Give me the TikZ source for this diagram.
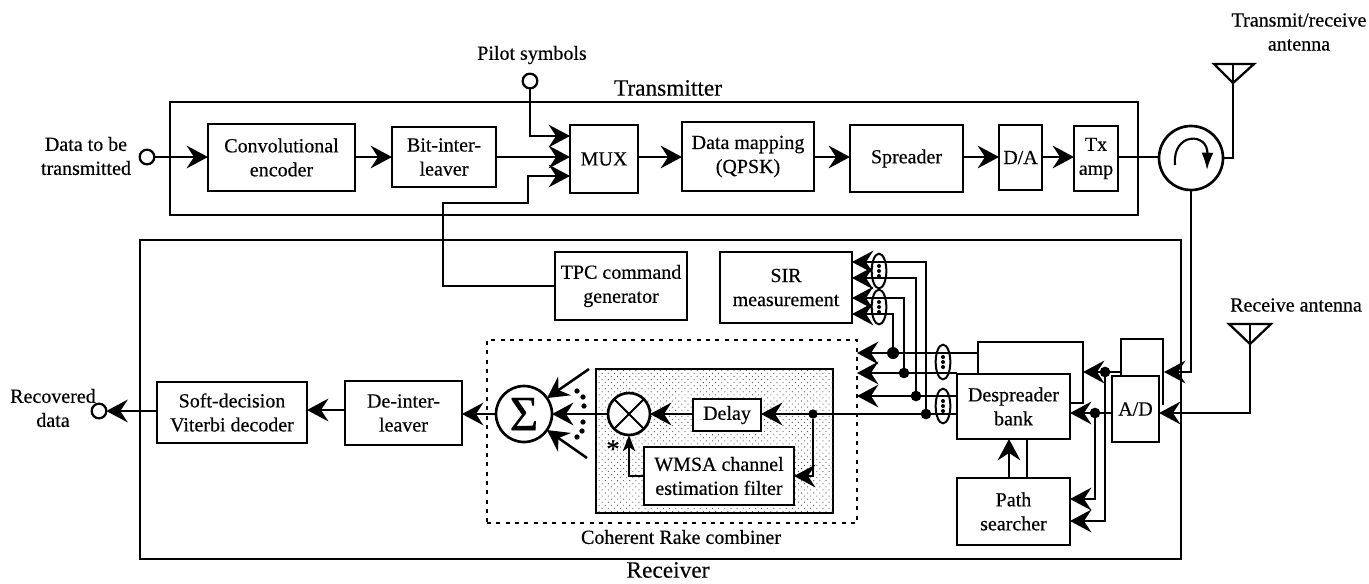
\documentclass[tikz,border=0pt]{standalone}
\usepackage{fontspec}
\setmainfont{Liberation Serif}[FakeBold=0.35]
\usetikzlibrary{arrows.meta,shapes.geometric,patterns,calc}
\pgfdeclarepatternformonly{stip}{\pgfqpoint{-1pt}{-1pt}}{\pgfqpoint{7pt}{7pt}}{\pgfqpoint{4.6pt}{4.6pt}}{%
  \pgfpathcircle{\pgfqpoint{0.8pt}{0.8pt}}{0.42pt}\pgfpathcircle{\pgfqpoint{3.1pt}{3.1pt}}{0.42pt}\pgfusepath{fill}}
\tikzset{
  blk/.style={draw,line width=2pt,fill=white,align=center,inner sep=0pt,outer sep=0pt,font=\fontsize{15}{18}\selectfont},
  frame/.style={draw,line width=1.3pt,inner sep=0pt,outer sep=0pt},
  rakebox/.style={draw,line width=1.8pt,dash pattern=on 3pt off 4pt,inner sep=0pt,outer sep=0pt},
  shade/.style={draw,line width=2pt,inner sep=0pt,outer sep=0pt,fill=white,postaction={pattern=stip,pattern color=black!75}},
  wire/.style={line width=1.9pt,line join=miter},
  thinwire/.style={line width=1.4pt},
  arr/.style={wire,-{Stealth[length=16pt,width=17pt,inset=5.5pt]}},
  lab/.style={align=center,inner sep=0pt,font=\fontsize{15}{18}\selectfont},
  titlelab/.style={align=center,inner sep=0pt,font=\fontsize{17.5}{20}\selectfont},
  port/.style={circle,draw,line width=1.7pt,minimum size=11pt,inner sep=0pt,outer sep=0pt,fill=white},
  jdot/.style={circle,fill=black,minimum size=#1,inner sep=0pt,outer sep=0pt},
  jdot/.default=8pt,
  bigcirc/.style={circle,draw,line width=2pt,fill=white,inner sep=0pt,outer sep=0pt},
  grp/.style={ellipse,draw,line width=1.5pt,minimum width=11pt,minimum height=26pt,inner sep=0pt,outer sep=0pt},
  mdot/.style={circle,fill=black,minimum size=3pt,inner sep=0pt,outer sep=0pt},
  ant/.style={line width=1.7pt,line join=miter},
}
\newcommand{\blk}[7][blk]{%
  \pgfmathsetmacro\cxx{(#3+#5)/2}\pgfmathsetmacro\cyy{(#4+#6)/2}%
  \pgfmathsetmacro\wwp{(#5-#3)*0.75}\pgfmathsetmacro\hhp{(#6-#4)*0.75}%
  \node[#1,minimum width=\wwp pt,minimum height=\hhp pt] (#2) at (\cxx,\cyy) {#7};}
\newcommand{\grpdots}[1]{%
  \node[mdot] at ($(#1)+(0,-5)$) {};\node[mdot] at (#1) {};\node[mdot] at ($(#1)+(0,5)$) {};}
\begin{document}
\begin{tikzpicture}[x=0.75pt,y=-0.75pt]
\useasboundingbox (0,0) rectangle (1369,583);
% rows
\coordinate (yA) at (0,136);\coordinate (yB) at (0,157);\coordinate (yC) at (0,176);
\coordinate (s1) at (0,262);\coordinate (s2) at (0,278);\coordinate (s3) at (0,298);\coordinate (s4) at (0,314);
\coordinate (r1) at (0,353);\coordinate (r2) at (0,373);\coordinate (r3) at (0,396);\coordinate (r4) at (0,414);
\coordinate (p1) at (0,499);\coordinate (p2) at (0,521);
% frames
\blk[frame]{txf}{170}{102}{1138}{215}{}
\blk[frame]{rxf}{140}{240}{1181}{559}{}
\blk[rakebox]{rake}{487}{340}{857}{523}{}
\blk[shade]{sh}{596}{369}{833}{513}{}
% transmitter
\blk{conv}{208}{124}{355}{191}{Convolutional\\encoder}
\blk{bit}{392}{127}{496}{187}{Bit-inter-\\leaver}
\blk{mux}{570}{125}{638}{193}{MUX}
\blk{map}{682}{122}{814}{191}{Data mapping\\(QPSK)}
\blk{spr}{850}{125}{963}{192}{Spreader}
\blk{da}{999}{125}{1042}{190}{D/A}
\blk{tx}{1074}{126}{1118}{191}{Tx\\amp}
\node[bigcirc,minimum size=48pt] (circ) at (1191,158) {};
\node[port] (din) at (147,157) {};
\node[port] (pil) at (530,81) {};
\node[lab] (ldin) at (86,156) {Data to be\\transmitted};
\node[lab] (lpil) at (532,55) {Pilot symbols};
\node[titlelab] (ltx) at (668,88) {Transmitter};
\node[lab] (lant) at (1299,32) {Transmit/receive\\antenna};
\node[lab] (lrant) at (1296,305) {Receive antenna};
\node[titlelab] (lrx) at (668,570) {Receiver};
\node[lab] (lrake) at (681,537) {Coherent Rake combiner};
% receiver blocks
\blk{tpc}{555}{252}{687}{320}{TPC command\\generator}
\blk{sir}{720}{252}{852}{323}{SIR\\measurement}
\blk{soft}{157}{382}{307}{443}{Soft-decision\\Viterbi decoder}
\blk{dei}{345}{381}{462}{445}{De-inter-\\leaver}
\node[bigcirc,minimum size=42pt] (sum) at (524,414) {\fontsize{37}{37}\selectfont Σ};
\node[bigcirc,minimum size=31.5pt] (mul) at (629,414) {};
\draw[thinwire] (mul.north east) -- (mul.south west) (mul.north west) -- (mul.south east);
\blk{del}{693}{399}{761}{431}{Delay}
\blk{wmsa}{644}{447}{794}{505}{WMSA channel\\estimation filter}
\node[lab,font=\fontsize{20}{20}\selectfont] (ast) at (613,449) {*};
% back layers
\coordinate (bd1) at (978,374);\coordinate (bd2) at (978,342);\coordinate (bd3) at (1083,342);\coordinate (bd4) at (1083,403);\coordinate (bd5) at (1070,403);
\draw[wire] (bd1) -- (bd2) -- (bd3) -- (bd4) -- (bd5);
\coordinate (ba1) at (1121,376);\coordinate (ba2) at (1121,339);\coordinate (ba3) at (1163,339);\coordinate (ba4) at (1163,405);
\draw[wire] (ba1) -- (ba2) -- (ba3) -- (ba4);
\blk{des}{957}{374}{1070}{439}{Despreader\\bank}
\blk{ad}{1112}{376}{1159}{442}{A/D}
\blk{path}{957}{478}{1070}{545}{Path\\searcher}
% transmitter wires
\draw[arr] (din.east) -- (din.east -| conv.west);
\draw[arr] (conv.east |- din) -- (conv.east |- din -| bit.west);
\draw[arr] (pil.south) |- (mux.west |- yA);
\draw[arr] (bit.east |- yB) -- (mux.west |- yB);
\coordinate (fb1) at (443,286);\coordinate (fb2) at (443,203);\coordinate (fb3) at (528,203);\coordinate (fb4) at (528,176);
\draw[arr] (tpc.west |- fb1) -- (fb1) -- (fb2) -- (fb3) -- (fb4) -- (mux.west |- yC);
\draw[arr] (mux.east |- yB) -- (map.west |- yB);
\draw[arr] (map.east |- yB) -- (spr.west |- yB);
\draw[arr] (spr.east |- yB) -- (da.west |- yB);
\draw[arr] (da.east |- yB) -- (tx.west |- yB);
\draw[wire] (tx.east |- yB) -- (circ.west |- yB);
% circulator sign
\coordinate (ca) at (1175,165);\coordinate (cb) at (1207,170);
\draw[line width=1.6pt,-{Latex[length=13pt,width=9pt]}] (ca) .. controls (1172,132) and (1208,132) .. (cb);
% antennas
\coordinate (a1t) at (1233,64);\coordinate (a1l) at (1214,64);\coordinate (a1r) at (1254,64);\coordinate (a1a) at (1233,83);
\draw[ant] (a1l) -- (a1r) -- (a1a) -- cycle;
\draw[wire] (a1t) |- (circ.east);
\coordinate (a2t) at (1250,324);\coordinate (a2l) at (1229,324);\coordinate (a2r) at (1271,324);\coordinate (a2a) at (1250,344);
\draw[ant] (a2l) -- (a2r) -- (a2a) -- cycle;
\draw[arr] (a2t) |- (ad.east |- 0,413);
\coordinate (ba5) at (1164,372);
\draw[arr] (circ.south) |- (ba5);
% A/D to despreader
\node[jdot] (jb) at (1105,372) {};
\node[jdot] (ja) at (1095,413) {};
\coordinate (ba6) at (1121,372);
\draw[arr] (ba6) -- (bd3 |- ba6);
\draw[arr] (ad.west |- ja) -- (des.east |- ja);
\draw[arr] (ja) |- (path.east |- p1);
\draw[arr] (jb) |- (path.east |- p2);
\coordinate (xu) at (1009,0);\coordinate (xv) at (1027,0);
\draw[arr] (xu |- path.north) -- (xu |- des.south);
\draw[wire] (xv |- path.north) -- (xv |- des.south);
% despreader outputs
\node[jdot=9pt] (j4) at (893,353) {};
\node[jdot] (j3) at (904,373) {};
\node[jdot] (j2) at (916,396) {};
\node[jdot] (j1) at (926,414) {};
\node[jdot=7pt] (jd) at (813,414) {};
\draw[arr] (bd2 |- r1) -- (rake.east |- r1);
\draw[arr] (des.west |- r2) -- (rake.east |- r2);
\draw[arr] (des.west |- r3) -- (rake.east |- r3);
\draw[arr] (des.west |- r4) -- (del.east |- r4);
\draw[arr] (j1) |- (sir.east |- s1);
\draw[arr] (j2) |- (sir.east |- s2);
\draw[arr] (j3) |- (sir.east |- s3);
\draw[arr] (j4) |- (sir.east |- s4);
\node[grp] (e1) at (879,271) {};\grpdots{e1}
\node[grp] (e2) at (879,307) {};\grpdots{e2}
\node[grp] (e3) at (943,362) {};\grpdots{e3}
\node[grp] (e4) at (943,406) {};\grpdots{e4}
% rake wires
\draw[arr] (del.west |- r4) -- (mul.east);
\coordinate (wy) at (0,476);
\draw[arr] (jd) |- (wmsa.east |- wy);
\draw[wire,-{Stealth[length=12pt,width=9pt,inset=3pt]}] (wmsa.west |- wy) -| (mul.south);
\draw[arr] (mul.west) -- (sum.east);
\coordinate (ina) at (589,369);\coordinate (inb) at (587,458);
\draw[arr] (ina) -- (sum);
\draw[arr] (inb) -- (sum);
\node[mdot,minimum size=4pt] (d1) at (577,391) {};\node[mdot,minimum size=4pt] (d2) at (583,397) {};\node[mdot,minimum size=4pt] (d3) at (584,406) {};
\node[mdot,minimum size=4pt] (d4) at (583,422) {};\node[mdot,minimum size=4pt] (d5) at (582,431) {};\node[mdot,minimum size=4pt] (d6) at (577,437) {};
\draw[arr] (sum.west) -- (sum.west -| dei.east);
\draw[arr] (dei.west |- 0,410) -- (soft.east |- 0,410);
\node[port] (dout) at (99,411) {};
\draw[arr] (soft.west |- dout) -- (dout.east);
\node[lab] (lout) at (53,408) {Recovered\\data};
\end{tikzpicture}
\end{document}
